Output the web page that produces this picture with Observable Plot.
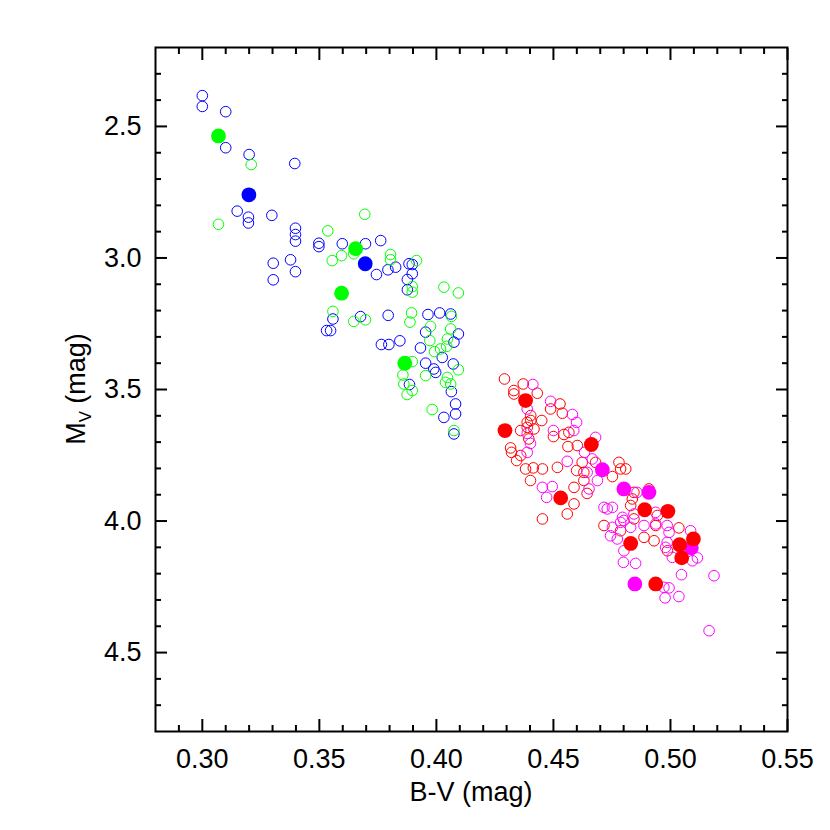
<!DOCTYPE html>
<html><head><meta charset="utf-8">
<script src="https://cdn.jsdelivr.net/npm/d3@7"></script>
<script src="https://cdn.jsdelivr.net/npm/@observablehq/plot@0.6"></script>
<style>body{margin:0;background:#fff}#chart svg{display:block}</style>
</head><body><div id="chart"></div>
<script>
// B-V (mag), M_V (mag)
const blueOpen = [
 [0.300,2.383],[0.300,2.424],[0.310,2.444],[0.310,2.581],[0.320,2.607],[0.3395,2.641],
 [0.3149,2.822],[0.3197,2.845],[0.3197,2.867],[0.3297,2.838],[0.3398,2.887],[0.3398,2.911],
 [0.3398,2.936],[0.3498,2.944],[0.3498,2.957],[0.3598,2.946],[0.3697,2.946],[0.3762,2.934],
 [0.3303,3.020],[0.3303,3.083],[0.3377,3.007],[0.3398,3.052],[0.3744,3.063],[0.3793,3.045],
 [0.3826,3.035],[0.3883,3.022],[0.3897,3.025],[0.3897,3.060],[0.3876,3.082],[0.3876,3.121],
 [0.3558,3.232],[0.3531,3.276],[0.3548,3.276],[0.3676,3.223],[0.3794,3.218],[0.3964,3.215],
 [0.4014,3.209],[0.4061,3.213],[0.3954,3.282],[0.4094,3.289],[0.4075,3.320],[0.4025,3.378],
 [0.3932,3.342],[0.3765,3.329],[0.3797,3.329],[0.3844,3.315],[0.3954,3.400],[0.3989,3.422],
 [0.3997,3.435],[0.4072,3.403],[0.3885,3.481],[0.4064,3.508],[0.4082,3.555],[0.4082,3.593],
 [0.4032,3.606],[0.4075,3.669]
];
const greenOpen = [
 [0.3209,2.645],[0.3069,2.872],[0.3536,2.897],[0.3694,2.834],[0.3555,3.010],[0.3595,2.991],
 [0.3647,2.984],[0.3804,2.987],[0.3804,3.007],[0.3915,3.010],[0.3897,3.109],[0.3897,3.130],
 [0.4032,3.111],[0.4094,3.133],[0.3558,3.203],[0.3647,3.241],[0.3697,3.235],[0.3894,3.209],
 [0.3887,3.244],[0.4064,3.222],[0.3975,3.260],[0.4061,3.270],[0.3972,3.314],[0.4018,3.346],
 [0.4044,3.336],[0.3992,3.356],[0.4047,3.308],[0.3897,3.394],[0.4094,3.425],[0.3857,3.445],
 [0.3954,3.447],[0.4047,3.454],[0.4061,3.479],[0.3861,3.479],[0.3875,3.519],[0.3897,3.504],
 [0.3982,3.576],[0.4075,3.656],[0.4039,3.473]
];
const redOpen = [
 [0.4291,3.460],[0.4331,3.504],[0.4331,3.517],[0.4371,3.479],[0.4431,3.514],[0.4488,3.574],
 [0.4528,3.555],[0.4403,3.599],[0.4403,3.618],[0.4388,3.625],[0.4388,3.644],[0.4450,3.618],
 [0.4417,3.650],[0.4360,3.656],[0.4395,3.688],[0.4500,3.679],[0.4317,3.722],[0.4321,3.739],
 [0.4360,3.751],[0.4343,3.770],[0.4381,3.802],[0.4414,3.798],[0.4453,3.802],[0.4517,3.796],
 [0.4402,3.846],[0.4453,3.992],[0.4538,3.590],[0.4545,3.671],[0.4566,3.663],[0.4562,3.717],
 [0.4602,3.713],[0.4599,3.808],[0.4623,3.777],[0.4630,3.815],[0.4680,3.777],[0.4752,3.831],
 [0.4780,3.777],[0.4787,3.802],[0.4809,3.802],[0.4630,3.846],[0.4588,3.872],[0.4644,3.895],
 [0.4588,3.935],[0.4559,3.973],[0.4908,3.878],[0.4837,3.916],[0.4830,3.941],[0.4716,4.017],
 [0.4787,4.037],[0.4887,4.062],[0.4844,3.891],[0.4844,3.992],[0.4937,4.017],[0.5036,4.026],
 [0.4930,4.075],[0.4987,4.113],[0.4944,3.979]
];
const magentaOpen = [
 [0.4412,3.481],[0.4488,3.545],[0.4388,3.574],[0.4388,3.667],[0.4500,3.656],[0.4402,3.705],
 [0.4388,3.739],[0.4453,3.872],[0.4495,3.869],[0.4471,3.910],[0.4581,3.595],[0.4599,3.625],
 [0.4587,3.656],[0.4680,3.682],[0.4633,3.739],[0.4666,3.764],[0.4559,3.773],[0.4644,3.815],
 [0.4688,3.846],[0.4652,3.878],[0.4857,3.891],[0.4730,3.954],[0.4752,3.948],[0.4752,4.024],
 [0.4787,4.005],[0.4830,4.024],[0.4773,4.068],[0.4937,4.011],[0.4937,3.967],[0.4801,3.998],
 [0.4887,4.017],[0.4986,4.017],[0.4994,4.043],[0.5086,4.037],[0.4801,4.113],[0.4986,4.081],
 [0.4979,4.100],[0.5008,4.138],[0.5094,4.151],[0.5115,4.140],[0.4851,4.161],[0.4799,4.157],
 [0.5047,4.204],[0.5186,4.208],[0.4972,4.252],[0.4994,4.254],[0.4977,4.292],[0.5036,4.287],
 [0.5165,4.417],[0.4744,4.056],[0.4795,3.986],[0.4844,3.973],[0.4716,3.948]
];
const blueFilled = [[0.3199,2.760],[0.3696,3.022]];
const greenFilled = [[0.3069,2.536],[0.3655,2.965],[0.3595,3.134],[0.3865,3.400]];
const magentaFilled = [[0.4709,3.805],[0.4801,3.878],[0.4908,3.891],[0.5089,4.102],[0.4848,4.239]];
const redFilled = [
 [0.4293,3.656],[0.4381,3.542],[0.4531,3.912],[0.4662,3.709],[0.4890,3.957],[0.4989,3.963],
 [0.4830,4.085],[0.5039,4.090],[0.5098,4.068],[0.5048,4.140],[0.4937,4.239]
];

const xMajor = [0.30,0.35,0.40,0.45,0.50,0.55];
const xMinor = [0.29,0.31,0.32,0.33,0.34,0.36,0.37,0.38,0.39,0.41,0.42,0.43,0.44,0.46,0.47,0.48,0.49,0.51,0.52,0.53,0.54];
const yMajor = [2.5,3.0,3.5,4.0,4.5];
const yMinor = [2.3,2.4,2.6,2.7,2.8,2.9,3.1,3.2,3.3,3.4,3.6,3.7,3.8,3.9,4.1,4.2,4.3,4.4,4.6,4.7];
const xLabel = "B-V (mag)";
const yLabelMain = "M", yLabelSub = "V", yLabelRest = " (mag)";

const FONT = "'Liberation Sans', Arial, Helvetica, sans-serif";
const FS = 27;
const openDot = (data, color) => Plot.dot(data, {x: d => d[0], y: d => d[1], r: 5.3, stroke: color, fill: "none", strokeWidth: 1});
const fillDot = (data, color) => Plot.dot(data, {x: d => d[0], y: d => d[1], r: 7.4, fill: color, stroke: "none"});

const plot = Plot.plot({
  width: 830, height: 830,
  marginLeft: 155, marginRight: 43, marginTop: 47, marginBottom: 99,
  style: {fontFamily: FONT, fontSize: FS + "px", color: "#000", background: "#fff"},
  x: {domain: [0.28, 0.55]},
  y: {domain: [2.2, 4.8], reverse: true},
  marks: [
    openDot(blueOpen, "#0000ff"),
    openDot(greenOpen, "#00ff00"),
    openDot(redOpen, "#ff0000"),
    openDot(magentaOpen, "#ff00ff"),
    fillDot(blueFilled, "#0000ff"),
    fillDot(greenFilled, "#00ff00"),
    fillDot(magentaFilled, "#ff00ff"),
    fillDot(redFilled, "#ff0000"),
    Plot.axisX(xMajor, {anchor: "bottom", tickSize: -12, tickPadding: 29, strokeWidth: 2, tickFormat: d3.format(".2f"), fontSize: FS, label: null}),
    Plot.axisX(xMinor, {anchor: "bottom", tickSize: -6, strokeWidth: 2, fill: "none", label: null}),
    Plot.axisX(xMajor, {anchor: "top", tickSize: -12, strokeWidth: 2, fill: "none", label: null}),
    Plot.axisX(xMinor, {anchor: "top", tickSize: -6, strokeWidth: 2, fill: "none", label: null}),
    Plot.axisY(yMajor, {anchor: "left", tickSize: -12, tickPadding: 26, strokeWidth: 2, tickFormat: d3.format(".1f"), fontSize: FS, label: null}),
    Plot.axisY(yMinor, {anchor: "left", tickSize: -6, strokeWidth: 2, fill: "none", label: null}),
    Plot.axisY(yMajor, {anchor: "right", tickSize: -12, strokeWidth: 2, fill: "none", label: null}),
    Plot.axisY(yMinor, {anchor: "right", tickSize: -6, strokeWidth: 2, fill: "none", label: null}),
    Plot.frame({stroke: "#000", strokeWidth: 2})
  ]
});

const sx = plot.scale("x"), sy = plot.scale("y");
const svg = d3.select(plot);
const xc = (sx.range[0] + sx.range[1]) / 2;
svg.append("text")
  .attr("x", xc).attr("y", 801)
  .attr("text-anchor", "middle")
  .attr("font-family", FONT).attr("font-size", FS).attr("fill", "#000")
  .text(xLabel);
const yc = (sy.range[0] + sy.range[1]) / 2;
const yt = svg.append("text")
  .attr("transform", `translate(85,${yc}) rotate(-90)`)
  .attr("text-anchor", "middle")
  .attr("font-family", FONT).attr("font-size", FS).attr("fill", "#000");
yt.append("tspan").text(yLabelMain);
yt.append("tspan").attr("font-size", FS * 0.62).attr("dy", 6).text(yLabelSub);
yt.append("tspan").attr("dy", -6).text(yLabelRest);

document.getElementById("chart").appendChild(plot);
</script>
</body></html>
